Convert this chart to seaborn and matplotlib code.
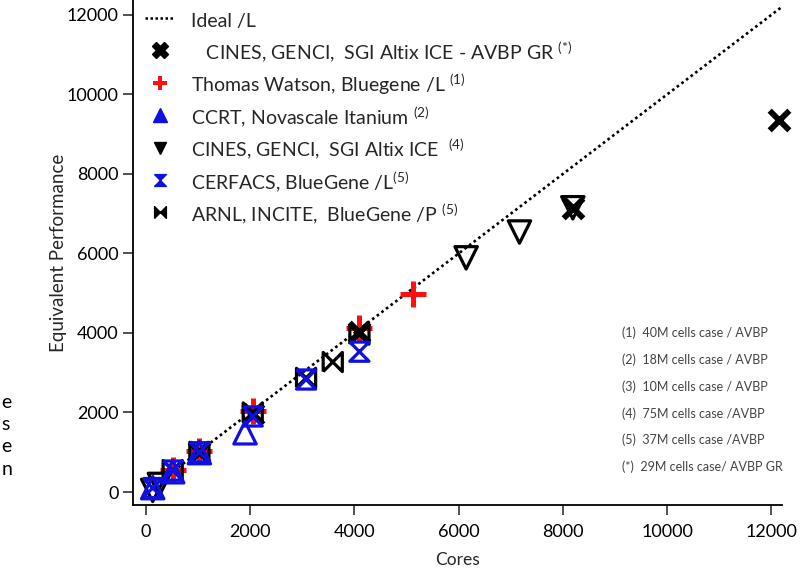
import matplotlib
matplotlib.use("Agg")
import matplotlib.pyplot as plt
from matplotlib.lines import Line2D
import seaborn as sns

# ===============================
# DATA
# ===============================
ideal_cores = [0, 12200]

gr_cores = [1024, 2048, 4096, 8192, 12150]
gr_perf = [1000, 1950, 4030, 7140, 9370]

watson_cores = [512, 1024, 2048, 4096, 5120]
watson_perf = [560, 1020, 2030, 4130, 4980]

ccrt_cores = [128, 512, 1024, 1900]
ccrt_perf = [110, 510, 990, 1490]

cines_cores = [128, 256, 6144, 7168, 8192]
cines_perf = [40, 190, 5890, 6540, 7150]

cerfacs_cores = [128, 512, 1024, 2048, 3072, 4096]
cerfacs_perf = [100, 540, 1000, 1900, 2830, 3530]

arnl_cores = [512, 1024, 2048, 3072, 3584, 4096]
arnl_perf = [550, 1010, 2000, 2870, 3270, 3960]

legend_labels = [
    r"Ideal /L",
    r"   CINES, GENCI,  SGI Altix ICE - AVBP GR $^{(*)}$",
    r"Thomas Watson, Bluegene /L $^{(1)}$",
    r"CCRT, Novascale Itanium $^{(2)}$",
    r"CINES, GENCI,  SGI Altix ICE  $^{(4)}$",
    r"CERFACS, BlueGene /L$^{(5)}$",
    r"ARNL, INCITE,  BlueGene /P $^{(5)}$",
]

notes = [
    "(1)  40M cells case / AVBP",
    "(2)  18M cells case / AVBP",
    "(3)  10M cells case / AVBP",
    "(4)  75M cells case /AVBP",
    "(5)  37M cells case /AVBP",
    "(*)  29M cells case/ AVBP GR",
]

# ===============================
# STYLE
# ===============================
sns.set_style("ticks")
plt.rcParams["font.family"] = ["Lato", "DejaVu Sans"]
plt.rcParams["mathtext.fontset"] = "custom"
plt.rcParams["mathtext.rm"] = "Lato"
plt.rcParams["mathtext.it"] = "Lato:italic"
plt.rcParams["mathtext.bf"] = "Lato:bold"

hourglass = [(-1, 1), (1, 1), (-1, -1), (1, -1), (-1, 1)]
bowtie = [(-1, -1), (-1, 1), (1, -1), (1, 1), (-1, -1)]
blue = "#1010e0"
red = "#ff1010"

fig = plt.figure(figsize=(8.12, 5.69), dpi=100)
ax = fig.add_axes([133 / 812, 64 / 569, 649 / 812, 505 / 569])

# ideal line
sns.lineplot(x=ideal_cores, y=ideal_cores, ax=ax, color="k",
             linestyle=(0, (1, 1.2)), linewidth=1.9, zorder=1)

# series (hollow, large markers)
sns.scatterplot(x=watson_cores, y=watson_perf, ax=ax, marker="+", s=330,
                color=red, linewidth=3.6, zorder=2)
sns.scatterplot(x=gr_cores, y=gr_perf, ax=ax, marker="x", s=200,
                color="k", linewidth=4.2, zorder=3, clip_on=False)
sns.scatterplot(x=arnl_cores, y=arnl_perf, ax=ax, marker=bowtie, s=190,
                color="k", facecolor="none", edgecolor="k", linewidth=2.3, zorder=3)
sns.scatterplot(x=cines_cores, y=cines_perf, ax=ax, marker="v", s=260,
                color="k", facecolor="none", edgecolor="k", linewidth=2.3, zorder=3)
sns.scatterplot(x=ccrt_cores, y=ccrt_perf, ax=ax, marker="^", s=260,
                color=blue, facecolor="none", edgecolor=blue, linewidth=2.3, zorder=4)
sns.scatterplot(x=cerfacs_cores, y=cerfacs_perf, ax=ax, marker=hourglass, s=190,
                color=blue, facecolor="none", edgecolor=blue, linewidth=2.3, zorder=4)

# ===============================
# AXES
# ===============================
ax.set_xlim(-250, 12207)
ax.set_ylim(-327, 12377)
ax.set_xticks(range(0, 12001, 2000))
ax.set_yticks(range(0, 12001, 2000))
ax.tick_params(axis="both", direction="out", length=7.5, width=1.2,
               colors="#333333", labelcolor="black", labelsize=13)
ax.tick_params(axis="x", pad=6)
ax.tick_params(axis="y", pad=3)
for side in ["left", "bottom"]:
    ax.spines[side].set_linewidth(1.3)
    ax.spines[side].set_color("black")
sns.despine(ax=ax)

ax.set_xlabel("Cores", fontsize=12.5, labelpad=9)
ax.set_ylabel("Equivalent Performance", fontsize=13.5, labelpad=0)

# ===============================
# LEGEND
# ===============================
handles = [
    Line2D([], [], color="k", linestyle=(0, (1, 1)), linewidth=1.8),
    Line2D([], [], color="k", marker="X", linestyle="", markersize=12),
    Line2D([], [], color=red, marker="P", linestyle="", markersize=10,
           markeredgewidth=0),
    Line2D([], [], color=blue, marker="^", linestyle="", markersize=9.5),
    Line2D([], [], color="k", marker="v", linestyle="", markersize=8.5),
    Line2D([], [], color=blue, marker=hourglass, linestyle="", markersize=8.5),
    Line2D([], [], color="k", marker=bowtie, linestyle="", markersize=8.5),
]
ax.legend(handles, legend_labels, loc="upper left",
          bbox_to_anchor=(0.0123, 0.99), borderaxespad=0, borderpad=0.2,
          frameon=False, fontsize=14, handlelength=1.55, handletextpad=0.8,
          handleheight=1.45, labelspacing=0.38)

# notes on the right
for i, note in enumerate(notes):
    fig.text(622 / 812, 1 - (333 + 26.8 * i) / 569, note, fontsize=9,
             color="#444444", va="center", ha="left")

# text at the left edge of the page
for i, ch in enumerate(["e", "s", "e", "n"]):
    fig.text(0.002, 1 - (402 + 22.5 * i) / 569, ch, fontsize=14,
             color="black", va="center", ha="left")

fig.savefig("out.png", dpi=100)
